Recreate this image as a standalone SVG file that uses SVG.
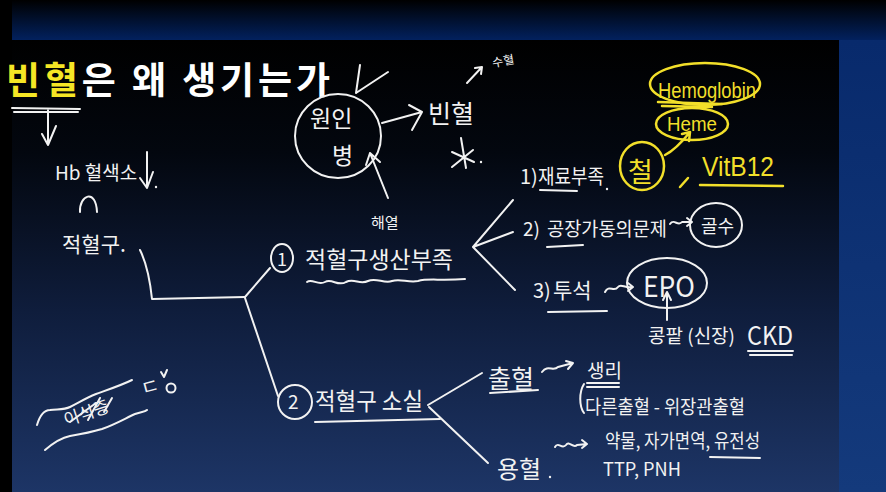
<svg xmlns="http://www.w3.org/2000/svg" width="886" height="492" viewBox="0 0 886 492">
  <defs>
    <linearGradient id="topband" x1="0" y1="0" x2="0" y2="1">
      <stop offset="0" stop-color="#000000"/>
      <stop offset="1" stop-color="#02215e"/>
    </linearGradient>
    <linearGradient id="panel" x1="0" y1="0" x2="0" y2="1">
      <stop offset="0" stop-color="#000000"/>
      <stop offset="0.25" stop-color="#03070f"/>
      <stop offset="0.6" stop-color="#0f1d3c"/>
      <stop offset="1" stop-color="#1d3566"/>
    </linearGradient>
    <linearGradient id="side" x1="0" y1="0" x2="0" y2="1">
      <stop offset="0" stop-color="#082a6c"/>
      <stop offset="1" stop-color="#143a7c"/>
    </linearGradient>
  </defs>
  <style>
    .hw { fill: #f2f2f2; font-family: "Noto Sans CJK KR", "Noto Sans", sans-serif; font-weight: 400; }
    .yw { fill: #f2df2a; font-family: "Liberation Sans", "Noto Sans", sans-serif; }
    .ykr { fill: #f2df2a; font-family: "Noto Sans CJK KR", sans-serif; }
    .ln { fill: none; stroke: #f2f2f2; stroke-width: 2; stroke-linecap: round; stroke-linejoin: round; }
    .yl { fill: none; stroke: #f2df2a; stroke-width: 2.5; stroke-linecap: round; stroke-linejoin: round; }
    .title { font-family: "Noto Sans CJK KR", sans-serif; font-weight: 700; font-size: 37px; }
  </style>

  <!-- background -->
  <rect x="0" y="0" width="886" height="492" fill="#000"/>
  <rect x="12" y="0" width="874" height="40" fill="url(#topband)"/>
  <rect x="839" y="40" width="47" height="452" fill="url(#side)"/>
  <rect x="12" y="40" width="827" height="452" fill="url(#panel)"/>

  <!-- title -->
  <g id="title">
    <text class="title" x="6" y="94" textLength="324" lengthAdjust="spacing"><tspan fill="#f5e625">빈혈</tspan><tspan fill="#ffffff">은 왜 생기는가</tspan></text>
    <path class="ln" d="M12 108 L80 109 M14 112 L78 112 M48 109 L48 145 M42 134 L48 145 L56 126"/>
  </g>

  <g id="hb">
    <text class="hw" x="55" y="180" font-size="19">Hb 혈색소</text>
    <path class="ln" d="M147 152 L147 188 M140 178 L147 188 L153 172"/>
    <circle cx="156" cy="187" r="1.2" fill="#f2f2f2"/>
    <path class="ln" d="M80 212 C79 195 96 188 97 212"/>
    <text class="hw" x="62" y="252" font-size="21">적혈구.</text>
  </g>

  <g id="cause">
    <ellipse class="ln" cx="338" cy="136" rx="43" ry="42"/>
    <text class="hw" x="310" y="127" font-size="23">원인</text>
    <text class="hw" x="332" y="164" font-size="23">병</text>
    <path class="ln" d="M356 93 L360 65 M356 93 L388 72"/>
  </g>

  <g id="anemia">
    <text class="hw" x="428" y="123" font-size="25">빈혈</text>
    <text class="hw" x="492" y="65" font-size="12" transform="rotate(-10 505 60)">수혈</text>
    <path class="ln" d="M461 138 L466 168 M452 167 L473 150 M452 152 L474 162"/>
    <circle cx="481" cy="162" r="1.2" fill="#f2f2f2"/>
  </g>

  <g id="haemolysis-note">
    <text class="hw" x="371" y="228" font-size="15">해열</text>
  </g>

  <g id="production">
    <ellipse class="ln" cx="282" cy="258" rx="11" ry="14"/>
    <text class="hw" x="277" y="266" font-size="18">1</text>
    <text class="hw" x="305" y="268" font-size="23" textLength="148" lengthAdjust="spacingAndGlyphs">적혈구생산부족</text>
    <path class="ln" d="M307 282 C312 278 318 286 325 282 C332 278 338 287 346 282 C354 278 360 285 368 281 C376 277 384 284 392 281 C400 278 408 283 418 281 C428 278 440 281 465 279"/>
  </g>

  <g id="material">
    <text class="hw" x="520" y="184" font-size="20">1)</text>
    <text class="hw" x="538" y="184" font-size="20" textLength="66" lengthAdjust="spacingAndGlyphs">재료부족</text>
    <path class="ln" d="M540 190 L577 191"/>
    <circle cx="607" cy="189" r="1.2" fill="#f2f2f2"/>
  </g>

  <g id="hemoglobin">
    <ellipse class="yl" cx="705" cy="84" rx="55" ry="21"/>
    <text class="yw" x="658" y="98" font-size="22" textLength="98" lengthAdjust="spacingAndGlyphs">Hemoglobin</text>
    <path class="yl" d="M658 102 L722 104 M662 106 L712 107"/>
  </g>

  <g id="heme">
    <ellipse class="yl" cx="692" cy="124" rx="36" ry="16"/>
    <text class="yw" x="667" y="131" font-size="20" textLength="50" lengthAdjust="spacingAndGlyphs">Heme</text>
  </g>

  <g id="iron">
    <ellipse class="yl" cx="642" cy="166" rx="22" ry="24"/>
    <text class="ykr" x="628" y="182" font-size="27">철</text>
    <path class="yl" d="M680 187 L688 178"/>
  </g>

  <g id="vitb12">
    <text class="yw" x="702" y="176" font-size="27" textLength="72" lengthAdjust="spacingAndGlyphs">VitB12</text>
    <path class="yl" d="M700 185 L783 186"/>
  </g>

  <g id="factory">
    <text class="hw" x="523" y="236" font-size="19">2)</text>
    <text class="hw" x="547" y="236" font-size="19" textLength="120" lengthAdjust="spacingAndGlyphs">공장가동의문제</text>
    <path class="ln" d="M547 247 L583 245"/>
    <path class="ln" d="M670 224 C674 218 678 227 682 222 L692 222 M687 218 L692 222 L687 226"/>
  </g>

  <g id="marrow">
    <ellipse class="ln" cx="716" cy="225" rx="26" ry="22"/>
    <text class="hw" x="701" y="233" font-size="18">골수</text>
  </g>

  <g id="dialysis">
    <text class="hw" x="533" y="298" font-size="20">3)</text>
    <text class="hw" x="553" y="298" font-size="21">투석</text>
    <path class="ln" d="M548 312 L607 311"/>
    <path class="ln" d="M605 292 C609 284 614 293 618 287 C621 283 625 289 633 287 M628 283 L633 287 L628 291"/>
  </g>

  <g id="epo">
    <ellipse class="ln" cx="667" cy="283" rx="40" ry="25"/>
    <text class="hw" x="643" y="297" font-size="29" font-weight="300" textLength="52" lengthAdjust="spacingAndGlyphs">EPO</text>
  </g>

  <g id="kidney">
    <text class="hw" x="648" y="343" font-size="19">콩팥 (신장)</text>
    <text class="hw" x="747" y="345" font-size="26" font-weight="300" textLength="46" lengthAdjust="spacingAndGlyphs">CKD</text>
    <path class="ln" d="M748 351 L793 351 M750 355 L792 355"/>
  </g>

  <g id="loss">
    <circle class="ln" cx="295" cy="402" r="17"/>
    <text class="hw" x="288" y="409" font-size="19">2</text>
    <text class="hw" x="315" y="410" font-size="24" textLength="108" lengthAdjust="spacingAndGlyphs">적혈구 소실</text>
    <path class="ln" d="M315 422 L440 419"/>
  </g>

  <g id="bleeding">
    <text class="hw" x="488" y="388" font-size="25">출혈</text>
    <path class="ln" d="M490 393 L538 390"/>
    <path class="ln" d="M542 372 C548 364 553 372 558 367 L573 363 M566 361 L573 363 L568 369"/>
  </g>

  <g id="bleeding-detail">
    <path class="ln" d="M584 384 C579 392 579 406 584 413"/>
    <text class="hw" x="587" y="378" font-size="19">생리</text>
    <path class="ln" d="M587 383 L619 383 M587 387 L619 387"/>
    <text class="hw" x="585" y="414" font-size="19" textLength="160" lengthAdjust="spacingAndGlyphs">다른출혈 - 위장관출혈</text>
  </g>

  <g id="hemolysis">
    <text class="hw" x="497" y="478" font-size="24">용혈</text>
    <circle cx="550" cy="477" r="1.2" fill="#f2f2f2"/>
    <path class="ln" d="M555 447 C558 441 562 450 566 445 C569 440 573 449 577 445 L587 444 M582 440 L587 444 L582 448"/>
  </g>

  <g id="hemolysis-detail">
    <text class="hw" x="605" y="448" font-size="19" textLength="155" lengthAdjust="spacingAndGlyphs">약물, 자가면역, 유전성</text>
    <path class="ln" d="M710 457 L760 458"/>
    <text class="hw" x="603" y="476" font-size="18" textLength="78" lengthAdjust="spacingAndGlyphs">TTP, PNH</text>
  </g>

  <g id="scribble">
    <path class="ln" d="M37 425 C40 415 44 410 50 410 C58 409 64 410 70 407 C78 403 86 398 96 394 C110 389 122 385 132 380"/>
    <path class="ln" d="M45 450 C52 444 60 438 70 436 C82 434 92 432 102 429 C116 424 126 418 135 414 C140 412 145 412 147 410"/>
    <text class="hw" x="66" y="426" font-size="17" transform="rotate(-18 66 426)">이식증</text>
    <path class="ln" d="M70 422 L96 403 M88 420 L100 398 M104 412 L112 398"/>
    <text class="hw" x="143" y="396" font-size="20" transform="rotate(-15 143 396)">ㄷ</text>
    <circle class="ln" cx="171" cy="388" r="4.5"/>
    <path class="ln" d="M161 372 L164 377 L167 370"/>
  </g>

  <g id="connectors">
    <path class="ln" d="M382 123 L422 112 M409 105 L422 112 L412 130"/>
    <path class="ln" d="M467 83 L482 67 M475 68 L482 67 L481 74"/>
    <path class="ln" d="M388 198 L370 153 M366 165 L370 153 L380 162"/>
    <path class="ln" d="M140 250 C146 262 150 280 152 299 L245 297"/>
    <path class="ln" d="M245 297 L270 268"/>
    <path class="ln" d="M245 298 L278 396"/>
    <path class="ln" d="M513 200 L473 247 L513 232 M473 247 L515 290"/>
    <path class="yl" d="M665 155 C675 150 682 142 690 132 M682 134 L690 132 L689 141"/>
    <path class="ln" d="M667 320 L667 292 M663 300 L667 292 L671 300"/>
    <path class="ln" d="M428 405 L482 373 M429 407 L488 463"/>
  </g>
</svg>
